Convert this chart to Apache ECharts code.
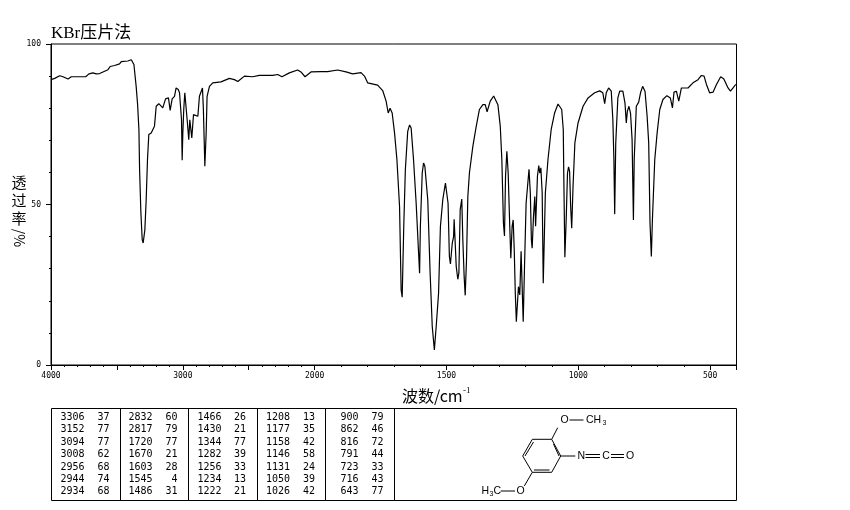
<!DOCTYPE html>
<html><head><meta charset="utf-8">
<style>html,body{margin:0;padding:0;background:#fff}#c{width:850px;height:510px}</style>
<script src="https://cdn.jsdelivr.net/npm/echarts@6/dist/echarts.min.js"></script>
</head><body><div id="c"></div>
<script>
const wavenumbers=[4000,3972,3934,3909,3871,3846,3737,3712,3682,3657,3631,3568,3551,3518,3480,3467,3417,3391,3371,3354,3343,3333,3328,3318,3308,3301,3288,3278,3268,3258,3240,3225,3215,3202,3182,3152,3131,3109,3096,3081,3063,3051,3035,3025,3015,3010,3005,3000,2993,2985,2972,2965,2955,2947,2940,2932,2919,2886,2874,2864,2851,2844,2833,2823,2816,2798,2773,2710,2647,2609,2583,2533,2470,2419,2318,2280,2248,2192,2129,2104,2073,2028,1976,1951,1913,1881,1856,1824,1811,1799,1761,1742,1729,1721,1714,1706,1697,1688,1678,1672,1668,1662,1656,1647,1640,1634,1625,1615,1607,1602,1599,1592,1587,1582,1571,1562,1554,1546,1539,1530,1523,1514,1504,1499,1494,1489,1485,1478,1473,1471,1468,1463,1457,1453,1448,1442,1438,1433,1429,1424,1419,1413,1400,1387,1375,1362,1353,1346,1334,1321,1314,1305,1296,1290,1284,1280,1276,1271,1266,1260,1256,1251,1247,1243,1239,1235,1230,1227,1222,1217,1213,1209,1204,1198,1187,1182,1178,1175,1170,1165,1162,1158,1155,1150,1146,1142,1137,1133,1130,1125,1115,1103,1090,1077,1071,1063,1057,1055,1051,1046,1041,1037,1033,1029,1025,1020,1013,1001,982,963,938,919,907,900,894,885,875,869,865,862,858,850,843,831,823,818,814,808,802,796,791,788,780,771,764,756,747,739,733,728,723,719,710,701,691,679,664,651,643,637,628,619,609,603,584,565,546,533,523,514,502,489,476,460,448,432,423,413,404,400];
const transmittance=[88.9,89.3,90.1,89.8,89.1,89.8,89.8,90.7,91.0,90.7,90.8,92.0,93.0,93.3,93.8,94.5,94.7,95.1,93.6,86.8,81.1,73.3,60.8,47.3,39.0,38.0,42.1,51.5,64.0,71.8,72.3,71.9,74.4,80.6,81.4,80.1,82.9,83.2,79.3,82.9,83.7,86.3,85.8,84.8,85.0,76.4,63.8,72.3,79.6,84.8,84.6,75.4,70.2,76.4,76.2,70.7,78.0,77.5,83.7,84.2,86.3,79.6,61.9,72.3,83.7,86.8,87.9,88.2,89.3,88.9,88.3,90.0,89.8,90.2,90.2,90.5,89.8,91.0,91.9,91.3,89.8,91.3,91.4,91.4,91.9,91.3,90.7,91.1,90.0,87.9,87.2,85.5,82.2,78.5,80.0,78.5,72.3,64.0,49.4,23.4,21.1,43.2,60.8,72.8,74.8,73.8,64.0,50.4,36.9,28.6,43.2,59.8,62.9,61.9,51.5,28.6,12.0,4.7,12.0,22.4,43.2,51.5,56.7,56.5,50.4,33.8,31.5,38.0,40.0,45.4,40.0,30.7,26.7,28.6,48.4,51.7,39.0,27.6,21.7,32.8,52.5,59.8,68.1,74.4,79.6,81.1,81.1,78.9,82.2,83.8,83.7,81.1,74.4,64.0,44.2,40.2,58.8,66.6,59.8,43.2,33.3,43.2,45.2,35.9,22.4,13.5,20.3,24.4,21.8,35.4,35.9,13.5,30.7,50.4,61.0,53.6,39.0,36.4,46.3,52.5,43.2,43.2,58.8,62.1,59.8,61.4,53.6,25.5,25.3,53.6,64.0,73.3,78.5,81.3,81.6,79.6,73.3,58.8,33.6,45.2,59.8,61.7,60.3,49.4,42.6,55.6,69.2,75.4,80.6,83.2,84.8,85.4,84.8,81.4,84.8,86.3,85.3,76.4,64.0,47.0,69.2,83.2,85.3,85.3,81.6,75.4,79.0,80.6,78.5,70.2,45.2,64.0,80.6,81.9,84.8,86.8,85.3,77.5,69.2,44.2,33.8,45.2,64.0,72.3,79.6,82.7,83.9,83.2,80.1,85.0,85.3,82.2,86.3,86.8,86.3,87.9,88.9,90.2,90.0,87.4,84.8,85.0,87.4,89.8,89.1,86.3,85.3,86.3,87.3,87.3];

const xTickLabels=[4000,3000,2000,1500,1000,500];
const xMajorTicks=[4000,3500,3000,2500,2000,1500,1000,500,400];
const xMinorTicks=[3900,3800,3700,3600,3400,3300,3200,3100,2900,2800,2700,2600,2400,2300,2200,2100,1900,1800,1700,1600,1400,1300,1200,1100,900,800,700,600];
const yTickLabels=[0,50,100];
const yMinorTicks=[10,20,30,40,60,70,80,90];

const peakWavenumbers=[3306,3152,3094,3008,2956,2944,2934, 2832,2817,1720,1670,1603,1545,1486, 1466,1430,1344,1282,1256,1234,1222, 1208,1177,1158,1146,1131,1050,1026, 900,862,816,791,723,716,643];
const peakValues=[37,77,77,62,68,74,68, 60,79,77,21,28,4,31, 26,21,77,39,33,13,21, 13,35,42,58,24,39,42, 79,46,72,44,33,43,77];

const titleText='KBr压片法';
const yNameChars=['透','过','率'];
const yNameUnit='/%';
const xNameText='波数/cm';

// The instrument's axis has twice the scale below 2000 cm-1.
const toAxis=v=>v>=2000?(4000-v)/2:1000+(2000-v);
const fromAxis=u=>u<=1000?4000-u*2:3000-u;

const BLACK='#000';
const serif='"Liberation Serif","Noto Sans CJK SC",serif';
const cjk='"Noto Sans CJK SC",sans-serif';
const mono='"DejaVu Sans Mono",monospace';
const sans='"Liberation Sans",sans-serif';

const txt=(x,y,text,font,size,align,extra)=>Object.assign({type:'text',silent:true,x,y,
  style:{text,fill:BLACK,font:size+'px '+font,align:align||'center',verticalAlign:'middle'}},extra||{});
const ln=(x1,y1,x2,y2)=>({type:'line',silent:true,shape:{x1,y1,x2,y2},style:{stroke:BLACK,lineWidth:1,fill:null}});

const graphics=[];
// y name
[182.5,200,218.5].forEach((y,i)=>graphics.push(txt(19,y,yNameChars[i],cjk,15)));
graphics.push(txt(19,238,yNameUnit,cjk,14,'center',{rotation:-Math.PI/2}));
// x name
graphics.push(txt(402,396,xNameText,cjk,16,'left'));
graphics.push(txt(463,391,'-1',serif,9,'left'));
// table
const T={l:51.5,r:736.5,t:408.5,b:500.5};
graphics.push({type:'rect',silent:true,shape:{x:T.l,y:T.t,width:T.r-T.l,height:T.b-T.t},style:{fill:null,stroke:BLACK,lineWidth:1}});
[120.5,188.5,257.5,325.5,394.5].forEach(x=>graphics.push(ln(x,T.t,x,T.b)));
const rowY=[417.5,429.5,442,454.5,467,479,491.5];
const colWn=[84.5,152.5,221.5,290,358.5], colVal=[109.5,177.5,246,315,383.5];
peakWavenumbers.forEach((w,i)=>{
  const c=Math.floor(i/7), r=i%7;
  graphics.push(txt(colWn[c],rowY[r],String(w),mono,10,'right'));
  graphics.push(txt(colVal[c],rowY[r],String(peakValues[i]),mono,10,'right'));
});
// structure
[[551.7,439.3,560.7,456],[560.7,456,551.7,472.3],[551.7,472.3,532.3,472.3],[532.3,472.3,522.7,456],[522.7,456,532.3,439.3],[532.3,439.3,551.7,439.3],
 [553.5,444,559,456],[549.5,470,534,470],[525,456,533.5,442],
 [551.7,439.3,557.7,427.7],[569.5,420,583.5,420],[560.7,456,575.3,456],
 [585.5,454.5,600,454.5],[585.5,457.5,600,457.5],[611,454.5,624,454.5],[611,457.5,624,457.5],
 [532.3,472.3,524.3,486],[500.7,491,515,491]].forEach(a=>graphics.push(ln(a[0],a[1],a[2],a[3])));
graphics.push(txt(564.7,420.5,'O',sans,10.5));
graphics.push(txt(586,420.5,'CH',sans,10.5,'left'));
graphics.push(txt(602.5,423.5,'3',sans,7,'left'));
graphics.push(txt(581.3,456,'N',sans,10.5));
graphics.push(txt(606,456,'C',sans,10.5));
graphics.push(txt(630,456,'O',sans,10.5));
graphics.push(txt(520.7,491,'O',sans,10.5));
graphics.push(txt(481.5,491.5,'H',sans,10.5,'left'));
graphics.push(txt(489.5,494,'3',sans,7,'left'));
graphics.push(txt(493.5,491.5,'C',sans,10.5,'left'));

const chart=echarts.init(document.getElementById('c'),null,{renderer:'canvas'});
const thinLine={lineStyle:{color:BLACK,width:1}};
chart.setOption({
  animation:false,
  backgroundColor:'#fff',
  title:{text:titleText,left:51,top:25,padding:0,textStyle:{color:BLACK,fontFamily:serif,fontSize:17,fontWeight:'normal'}},
  grid:{left:51,top:44,width:685.5,height:321,show:true,borderColor:BLACK,borderWidth:1,backgroundColor:'transparent'},
  xAxis:[
    {type:'value',min:0,max:2600,position:'bottom',splitLine:{show:false},
     axisLine:{show:true,...thinLine},
     axisTick:{show:true,length:5,customValues:xMajorTicks.map(toAxis),...thinLine},
     axisLabel:{show:true,customValues:xTickLabels.map(toAxis),margin:7,color:BLACK,fontFamily:mono,fontSize:8,showMinLabel:true,showMaxLabel:true,formatter:u=>String(fromAxis(u))}},
    {type:'value',min:0,max:2600,position:'bottom',splitLine:{show:false},
     axisLine:{show:false},
     axisTick:{show:true,length:2,customValues:xMinorTicks.map(toAxis),...thinLine},
     axisLabel:{show:false}}
  ],
  yAxis:[
    {type:'value',min:0,max:100,position:'left',splitLine:{show:false},
     axisLine:{show:true,...thinLine},
     axisTick:{show:true,length:5,customValues:yTickLabels,...thinLine},
     axisLabel:{show:true,customValues:yTickLabels,margin:10,color:BLACK,fontFamily:mono,fontSize:8,showMinLabel:true,showMaxLabel:true}},
    {type:'value',min:0,max:100,position:'left',splitLine:{show:false},
     axisLine:{show:false},
     axisTick:{show:true,length:2,customValues:yMinorTicks,...thinLine},
     axisLabel:{show:false}}
  ],
  series:[{type:'line',xAxisIndex:0,yAxisIndex:0,showSymbol:false,symbol:'none',smooth:false,
    lineStyle:{color:BLACK,width:1.2},silent:true,
    data:wavenumbers.map((w,i)=>[toAxis(w),transmittance[i]])}],
  graphic:{elements:graphics}
});
</script></body></html>
